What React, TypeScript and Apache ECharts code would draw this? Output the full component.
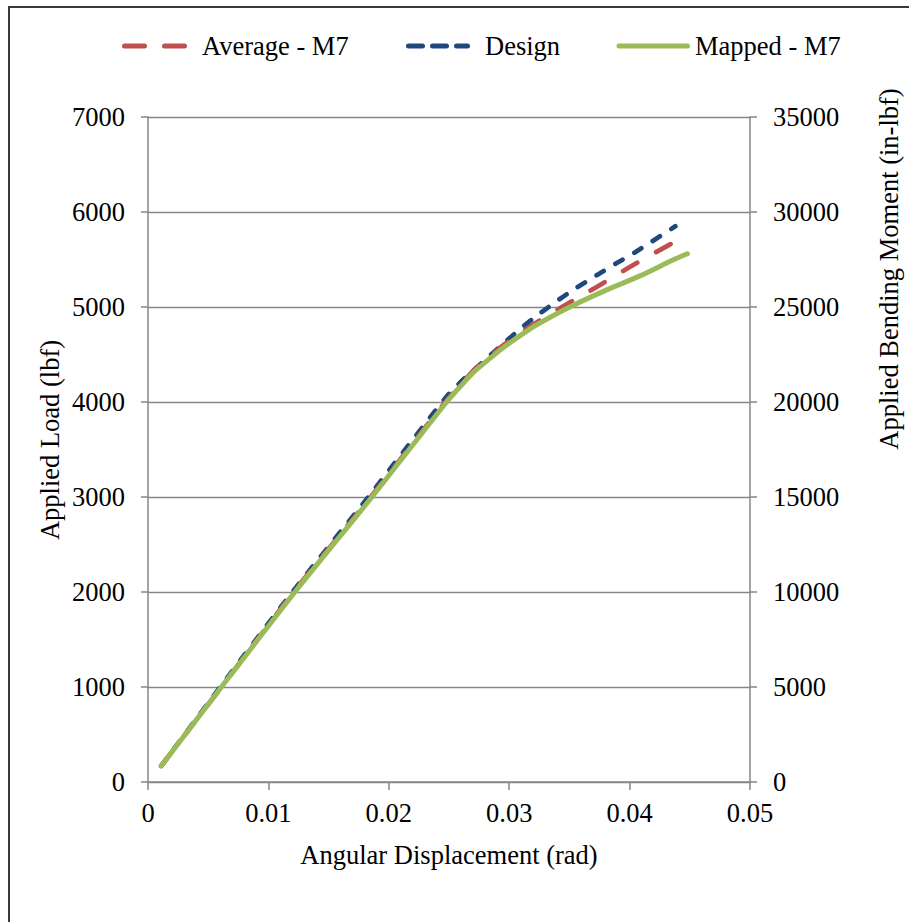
import React, { useEffect, useRef } from 'react';
import * as echarts from 'echarts';

const FONT = "'Liberation Serif', 'Times New Roman', Times, serif";

// Angular displacement (rad) / applied load (lbf)
const averageX = [0.0011, 0.0061, 0.0121, 0.0185, 0.0247, 0.0262, 0.0271, 0.0285, 0.0298, 0.0318, 0.033, 0.0352, 0.0373, 0.0403, 0.0438];
const averageY = [170, 1000, 2000, 3000, 4000, 4215, 4340, 4495, 4625, 4800, 4895, 5060, 5214, 5442, 5690];

const designX = [0.0011, 0.006, 0.012, 0.0183, 0.0248, 0.0263, 0.0279, 0.0293, 0.0306, 0.032, 0.0337, 0.0353, 0.0373, 0.0389, 0.0405, 0.0438];
const designY = [170, 1000, 2000, 3000, 4056, 4250, 4430, 4590, 4735, 4880, 5039, 5179, 5337, 5460, 5580, 5850];

const mappedX = [0.0011, 0.0061, 0.0122, 0.0186, 0.0248, 0.0262, 0.0271, 0.0285, 0.0298, 0.0318, 0.0328, 0.0352, 0.0381, 0.0409, 0.0436, 0.0448];
const mappedY = [170, 1000, 2000, 3000, 4000, 4200, 4320, 4470, 4600, 4775, 4850, 5010, 5180, 5330, 5495, 5560];

const seriesNames = ['Average - M7', 'Design', 'Mapped - M7'];
const seriesColors = ['#C0504D', '#1F497D', '#9BBB59'];

const xTitle = 'Angular Displacement (rad)';
const yLeftTitle = 'Applied Load (lbf)';
const yRightTitle = 'Applied Bending Moment (in-lbf)';

const zip = (xs: number[], ys: number[]) => xs.map((x, i) => [x, ys[i]]);

export default function App() {
  const ref = useRef<HTMLDivElement>(null);
  useEffect(() => {
    const chart = echarts.init(ref.current!, null, { renderer: 'svg' });
    const gray = '#868686';
    const FS = 26.5;
    const labelStyle = { fontFamily: FONT, fontSize: FS, color: '#000' };
    const legendY = 46;
    const textStyle = (text: string) => ({
      text,
      fontFamily: FONT,
      fontSize: FS,
      fill: '#000',
    });
    const plain = (v: number) => String(v);
    const option: any = {
      animation: false,
      backgroundColor: '#fff',
      grid: { left: 148, top: 117, width: 602, height: 665, containLabel: false, outerBoundsMode: 'none' },
      xAxis: {
        type: 'value',
        min: 0,
        max: 0.05,
        interval: 0.01,
        axisLine: { show: true, onZero: false, lineStyle: { color: gray, width: 1.5 } },
        axisTick: { show: true, length: 8, lineStyle: { color: gray, width: 1.5 } },
        axisLabel: {
          ...labelStyle,
          margin: 17,
          showMinLabel: true,
          showMaxLabel: true,
          formatter: (v: number) => (v === 0 ? '0' : v.toFixed(2)),
        },
        splitLine: { show: false },
      },
      yAxis: [
        {
          type: 'value',
          position: 'left',
          min: 0,
          max: 7000,
          interval: 1000,
          axisLine: { show: true, lineStyle: { color: gray, width: 1.5 } },
          axisTick: { show: true, length: 7, lineStyle: { color: gray, width: 1.5 } },
          axisLabel: { ...labelStyle, margin: 23, showMinLabel: true, showMaxLabel: true, formatter: plain },
          splitLine: { show: true, lineStyle: { color: gray, width: 1.3 } },
        },
        {
          type: 'value',
          position: 'right',
          min: 0,
          max: 35000,
          interval: 5000,
          axisLine: { show: true, lineStyle: { color: gray, width: 1.5 } },
          axisTick: { show: true, length: 7, lineStyle: { color: gray, width: 1.5 } },
          axisLabel: { ...labelStyle, margin: 23, showMinLabel: true, showMaxLabel: true, formatter: plain },
          splitLine: { show: false },
        },
      ],
      series: [
        {
          name: seriesNames[0],
          type: 'line',
          data: zip(averageX, averageY),
          symbol: 'none',
          smooth: 0.25,
          z: 3,
          lineStyle: { color: seriesColors[0], width: 4.7, type: [16.5, 21.5], cap: 'round' },
        },
        {
          name: seriesNames[1],
          type: 'line',
          data: zip(designX, designY),
          symbol: 'none',
          smooth: 0.25,
          z: 2,
          lineStyle: { color: seriesColors[1], width: 4.7, type: [8.5, 13.5], cap: 'round' },
        },
        {
          name: seriesNames[2],
          type: 'line',
          data: zip(mappedX, mappedY),
          symbol: 'none',
          smooth: 0.25,
          z: 4,
          lineStyle: { color: seriesColors[2], width: 5, cap: 'round' },
        },
      ],
      graphic: [
        {
          type: 'rect',
          silent: true,
          shape: { x: 9, y: 7, width: 1000, height: 1000 },
          style: { fill: 'none', stroke: '#3a3a3a', lineWidth: 2 },
        },
        // legend
        {
          type: 'line',
          shape: { x1: 124.5, y1: legendY, x2: 184.5, y2: legendY },
          style: { stroke: seriesColors[0], lineWidth: 5, lineDash: [20, 20], lineCap: 'round' },
        },
        { type: 'text', x: 202, y: legendY, style: { ...textStyle(seriesNames[0]), align: 'left', verticalAlign: 'middle' } },
        {
          type: 'line',
          shape: { x1: 408.5, y1: legendY, x2: 467.5, y2: legendY },
          style: { stroke: seriesColors[1], lineWidth: 5, lineDash: [14, 10], lineCap: 'round' },
        },
        { type: 'text', x: 485, y: legendY, style: { ...textStyle(seriesNames[1]), align: 'left', verticalAlign: 'middle' } },
        {
          type: 'line',
          shape: { x1: 619, y1: legendY, x2: 687.5, y2: legendY },
          style: { stroke: seriesColors[2], lineWidth: 5, lineCap: 'round' },
        },
        { type: 'text', x: 695, y: legendY, style: { ...textStyle(seriesNames[2]), align: 'left', verticalAlign: 'middle' } },
        // axis titles
        { type: 'text', x: 449, y: 855, style: { ...textStyle(xTitle), align: 'center', verticalAlign: 'middle' } },
        { type: 'text', x: 50, y: 440, rotation: Math.PI / 2, style: { ...textStyle(yLeftTitle), align: 'center', verticalAlign: 'middle' } },
        { type: 'text', x: 889, y: 269, rotation: Math.PI / 2, style: { ...textStyle(yRightTitle), align: 'center', verticalAlign: 'middle' } },
      ],
    };
    chart.setOption(option);
    return () => chart.dispose();
  }, []);
  return (
    <div
      ref={ref}
      style={{ position: 'absolute', left: 0, top: 0, width: 909, height: 922, background: '#fff' }}
    />
  );
}
